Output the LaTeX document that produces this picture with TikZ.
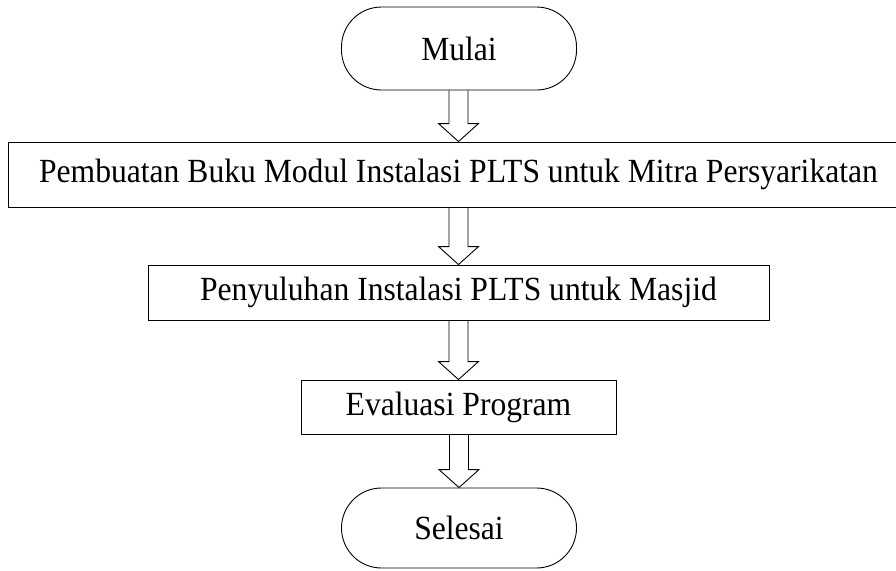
\documentclass[tikz,border=0pt]{standalone}
\usepackage{fontspec}
\setmainfont{Liberation Serif}
\usetikzlibrary{calc}
\tikzset{
  terminal/.style={
    draw,
    rounded corners=40pt,
    minimum width=235pt,
    minimum height=83pt,
    inner sep=0pt
  },
  process/.style={
    draw,
    inner sep=0pt
  },
  flowarrow/.style={line width=0.9pt, line join=miter}
}
% slightly tall lettering, as in the scanned chart
\newcommand{\steptext}[1]{\scalebox{1}[1.07]{#1}}
\newcommand{\blockarrow}[2]{%
  \draw[flowarrow] let \p1=(#1.south), \p2=(#2.north) in
    (\x2-9.5pt,\y1) -- (\x2-9.5pt,\y2+18pt) -- (\x2-20pt,\y2+18pt)
    -- (\x2,\y2) -- (\x2+20pt,\y2+18pt) -- (\x2+9.5pt,\y2+18pt)
    -- (\x2+9.5pt,\y1);
}

\begin{document}
\begin{tikzpicture}[x=1pt, y=-1pt, line width=0.9pt,
    font=\fontsize{31.6}{38}\selectfont]
  \useasboundingbox (0,0) rectangle (896,570);
  \clip (0,0) rectangle (896,570);
  \node[terminal] (mulai) at (459,48.5) {\steptext{Mulai}};
  \node[process, minimum width=900pt, minimum height=65pt] (modul)
    at (458.5,174.5)
    {\steptext{Pembuatan Buku Modul Instalasi PLTS untuk Mitra Persyarikatan}};
  \node[process, minimum width=621pt, minimum height=55pt] (penyuluhan)
    at (458.5,292.5) {\steptext{Penyuluhan Instalasi PLTS untuk Masjid}};
  \node[process, minimum width=315pt, minimum height=54pt] (evaluasi)
    at (458.5,407) {\steptext{Evaluasi Program}};
  \node[terminal, minimum height=80pt] (selesai) at (459,528) {\steptext{Selesai}};
  % arrows between the steps
  \blockarrow{mulai}{modul}
  \blockarrow{modul}{penyuluhan}
  \blockarrow{penyuluhan}{evaluasi}
  \blockarrow{evaluasi}{selesai}
\end{tikzpicture}
\end{document}
